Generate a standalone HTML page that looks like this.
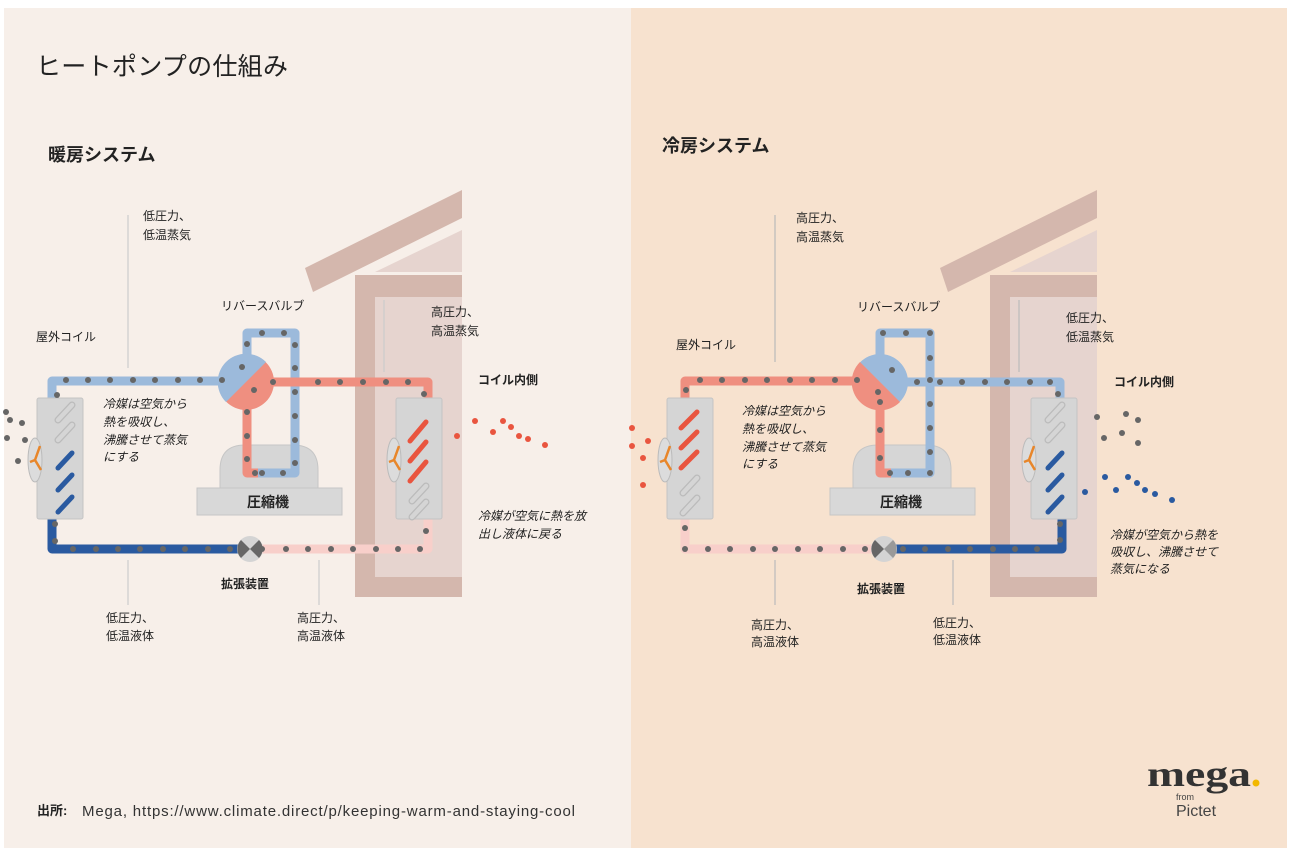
<!DOCTYPE html>
<html><head><meta charset="utf-8"><style>
html,body{margin:0;padding:0;background:#fff}
svg{display:block}
text{font-family:"Liberation Sans","Noto Sans CJK JP",sans-serif;fill:#222}
.s{font-size:12px}
.i{font-size:12px;font-style:italic}
.b{font-size:12px;font-weight:bold}
</style></head><body>
<svg width="1293" height="853" viewBox="0 0 1293 853" xmlns="http://www.w3.org/2000/svg">
<defs>
<g id="coilBase">
  <rect x="0" y="0" width="46" height="121" rx="2" fill="#d5d5d5" stroke="#c4c4c4"/>
  <ellipse cx="-2" cy="62" rx="7" ry="22" fill="#dcdcdc" stroke="#bbb"/>
  <path d="M-2 62 L3 48 M-2 62 L4 72 M-2 62 L-7 64" stroke="#e8862a" stroke-width="2.5" fill="none"/>
</g>
<g id="stripesO">
  <path d="M0 0 L14 -15" stroke="#bbb" stroke-width="7" stroke-linecap="round" fill="none"/>
  <path d="M0 0 L14 -15" stroke="#d5d5d5" stroke-width="4.5" stroke-linecap="round" fill="none"/>
</g>
<g id="house">
  <rect x="0" y="85" width="107" height="322" fill="#d4b7ad"/>
  <rect x="20" y="107" width="87" height="280" fill="#e6d4cf"/>
  <polygon points="-50,78 107,0 107,28 -42,102" fill="#d4b7ad"/>
  <polygon points="20,82 107,40 107,82" fill="#e6d4cf"/>
</g>
</defs>
<rect x="4" y="8" width="627" height="840" fill="#f7efe9"/>
<rect x="631" y="8" width="656" height="840" fill="#f7e2cf"/>

<text x="36" y="75" style="font-size:25px" textLength="252">ヒートポンプの仕組み</text>
<text x="48" y="161" style="font-size:18px;font-weight:bold">暖房システム</text>
<text x="662" y="152" style="font-size:18px;font-weight:bold">冷房システム</text>

<!-- ================= LEFT ================= -->
<g transform="translate(355,190)"><use href="#house"/></g>
<g stroke="#ccc" stroke-width="1.2">
<line x1="128" y1="215" x2="128" y2="368"/>
<line x1="128" y1="560" x2="128" y2="605"/>
<line x1="319" y1="560" x2="319" y2="605"/>
<line x1="384" y1="300" x2="384" y2="372"/>
</g>
<path d="M220 490 L220 470 Q220 445 245 445 L293 445 Q318 445 318 470 L318 490 Z" fill="#d6d6d6" stroke="#c6c6c6"/>
<rect x="197" y="488" width="145" height="27" fill="#d8d8d8" stroke="#c6c6c6"/>
<text x="247" y="507" style="font-size:14px;font-weight:bold">圧縮機</text>
<g fill="none" stroke-linejoin="round" stroke-width="9">
<path d="M52 398 L52 381 L222 381" stroke="#9cbadb"/>
<path d="M247 355 L247 333 L295 333 L295 473 L255 473" stroke="#9cbadb"/>
<path d="M247 408 L247 473 L258 473" stroke="#ef8f80"/>
<path d="M272 382 L428 382 L428 398" stroke="#ef8f80"/>
<path d="M52 518 L52 549 L238 549" stroke="#2a5aa0"/>
<path d="M262 549 L428 549 L428 518" stroke="#f8cfca"/>
</g>
<circle cx="246" cy="382" r="28" fill="#ef8f80"/>
<path d="M226 402 A28 28 0 0 1 266 362 Z" fill="#9cbadb"/>
<circle cx="250" cy="549" r="13" fill="#d4d4d4"/>
<path d="M241 540 L250 549 L241 558 A13 13 0 0 1 241 540 Z" fill="#666"/>
<path d="M259 540 L250 549 L259 558 A13 13 0 0 0 259 540 Z" fill="#666"/>
<g transform="translate(37,398)"><use href="#coilBase"/>
<g transform="translate(21,22)"><use href="#stripesO"/></g>
<g transform="translate(21,42)"><use href="#stripesO"/></g>
<path d="M21 70 L35 55 M21 92 L35 77 M21 114 L35 99" stroke="#2a5aa0" stroke-width="5" stroke-linecap="round"/>
</g>
<g transform="translate(396,398)"><use href="#coilBase"/>
<path d="M14 43 L30 24 M14 63 L30 44 M14 83 L30 64" stroke="#e9553f" stroke-width="5" stroke-linecap="round"/>
<g transform="translate(16,103)"><use href="#stripesO"/></g>
<g transform="translate(16,119)"><use href="#stripesO"/></g>
</g>
<g fill="#666">
<circle cx="57" cy="395" r="3"/><circle cx="66" cy="380" r="3"/><circle cx="88" cy="380" r="3"/><circle cx="110" cy="380" r="3"/><circle cx="133" cy="380" r="3"/><circle cx="155" cy="380" r="3"/><circle cx="178" cy="380" r="3"/><circle cx="200" cy="380" r="3"/><circle cx="222" cy="380" r="3"/>
<circle cx="242" cy="367" r="3"/><circle cx="254" cy="390" r="3"/>
<circle cx="247" cy="344" r="3"/><circle cx="262" cy="333" r="3"/><circle cx="284" cy="333" r="3"/><circle cx="295" cy="345" r="3"/><circle cx="295" cy="368" r="3"/><circle cx="295" cy="392" r="3"/><circle cx="295" cy="416" r="3"/><circle cx="295" cy="440" r="3"/><circle cx="295" cy="463" r="3"/><circle cx="283" cy="473" r="3"/><circle cx="262" cy="473" r="3"/><circle cx="255" cy="473" r="3"/>
<circle cx="247" cy="412" r="3"/><circle cx="247" cy="436" r="3"/><circle cx="247" cy="459" r="3"/>
<circle cx="273" cy="382" r="3"/><circle cx="318" cy="382" r="3"/><circle cx="340" cy="382" r="3"/><circle cx="363" cy="382" r="3"/><circle cx="386" cy="382" r="3"/><circle cx="408" cy="382" r="3"/><circle cx="424" cy="394" r="3"/>
<circle cx="55" cy="524" r="3"/><circle cx="55" cy="541" r="3"/><circle cx="73" cy="549" r="3"/><circle cx="96" cy="549" r="3"/><circle cx="118" cy="549" r="3"/><circle cx="140" cy="549" r="3"/><circle cx="163" cy="549" r="3"/><circle cx="185" cy="549" r="3"/><circle cx="208" cy="549" r="3"/><circle cx="230" cy="549" r="3"/>
<circle cx="262" cy="549" r="3"/><circle cx="286" cy="549" r="3"/><circle cx="308" cy="549" r="3"/><circle cx="331" cy="549" r="3"/><circle cx="353" cy="549" r="3"/><circle cx="376" cy="549" r="3"/><circle cx="398" cy="549" r="3"/><circle cx="420" cy="549" r="3"/><circle cx="426" cy="531" r="3"/>
<circle cx="6" cy="412" r="3"/><circle cx="10" cy="420" r="3"/><circle cx="22" cy="423" r="3"/><circle cx="7" cy="438" r="3"/><circle cx="25" cy="440" r="3"/><circle cx="18" cy="461" r="3"/>
</g>
<g fill="#e9553f">
<circle cx="457" cy="436" r="3"/><circle cx="475" cy="421" r="3"/><circle cx="493" cy="432" r="3"/><circle cx="503" cy="421" r="3"/><circle cx="511" cy="427" r="3"/><circle cx="519" cy="436" r="3"/><circle cx="528" cy="439" r="3"/><circle cx="545" cy="445" r="3"/>
</g>
<text class="s" x="143" y="220">低圧力、</text><text class="s" x="143" y="239">低温蒸気</text>
<text class="s" x="221" y="310">リバースバルブ</text>
<text class="s" x="36" y="341">屋外コイル</text>
<text class="s" x="431" y="316">高圧力、</text><text class="s" x="431" y="335">高温蒸気</text>
<text class="b" x="478" y="384">コイル内側</text>
<text class="i" x="103" y="408">冷媒は空気から</text><text class="i" x="103" y="426">熱を吸収し、</text><text class="i" x="103" y="444">沸騰させて蒸気</text><text class="i" x="103" y="461">にする</text>
<text class="i" x="478" y="520">冷媒が空気に熱を放</text><text class="i" x="478" y="538">出し液体に戻る</text>
<text class="b" x="221" y="588">拡張装置</text>
<text class="s" x="106" y="622">低圧力、</text><text class="s" x="106" y="640">低温液体</text>
<text class="s" x="297" y="622">高圧力、</text><text class="s" x="297" y="640">高温液体</text>

<!-- ================= RIGHT ================= -->
<g transform="translate(990,190)"><use href="#house"/></g>
<g stroke="#bbb" stroke-width="1.2">
<line x1="775" y1="215" x2="775" y2="362"/>
<line x1="775" y1="560" x2="775" y2="605"/>
<line x1="953" y1="560" x2="953" y2="605"/>
<line x1="1019" y1="300" x2="1019" y2="372"/>
</g>
<path d="M853 490 L853 470 Q853 445 878 445 L926 445 Q951 445 951 470 L951 490 Z" fill="#d6d6d6" stroke="#c6c6c6"/>
<rect x="830" y="488" width="145" height="27" fill="#d8d8d8" stroke="#c6c6c6"/>
<text x="880" y="507" style="font-size:14px;font-weight:bold">圧縮機</text>
<g fill="none" stroke-linejoin="round" stroke-width="9">
<path d="M685 398 L685 381 L855 381" stroke="#ef8f80"/>
<path d="M880 355 L880 333 L930 333 L930 473 L888 473" stroke="#9cbadb"/>
<path d="M880 408 L880 473 L891 473" stroke="#ef8f80"/>
<path d="M905 382 L1060 382 L1060 398" stroke="#9cbadb"/>
<path d="M685 518 L685 549 L872 549" stroke="#f8cfca"/>
<path d="M896 549 L1062 549 L1062 518" stroke="#2a5aa0"/>
</g>
<circle cx="880" cy="382" r="28" fill="#9cbadb"/>
<path d="M860 362 A28 28 0 0 0 900 402 Z" fill="#ef8f80"/>
<circle cx="884" cy="549" r="13" fill="#d4d4d4"/>
<path d="M875 540 L884 549 L875 558 A13 13 0 0 1 875 540 Z" fill="#666"/>
<path d="M893 540 L884 549 L893 558 A13 13 0 0 0 893 540 Z" fill="#999"/>
<g transform="translate(667,398)"><use href="#coilBase"/>
<path d="M14 30 L30 14 M14 50 L30 34 M14 70 L30 54" stroke="#e9553f" stroke-width="5" stroke-linecap="round"/>
<g transform="translate(16,95)"><use href="#stripesO"/></g>
<g transform="translate(16,115)"><use href="#stripesO"/></g>
</g>
<g transform="translate(1031,398)"><use href="#coilBase"/>
<g transform="translate(17,22)"><use href="#stripesO"/></g>
<g transform="translate(17,42)"><use href="#stripesO"/></g>
<path d="M17 70 L31 55 M17 92 L31 77 M17 114 L31 99" stroke="#2a5aa0" stroke-width="5" stroke-linecap="round"/>
</g>
<g fill="#666">
<circle cx="686" cy="390" r="3"/><circle cx="700" cy="380" r="3"/><circle cx="722" cy="380" r="3"/><circle cx="745" cy="380" r="3"/><circle cx="767" cy="380" r="3"/><circle cx="790" cy="380" r="3"/><circle cx="812" cy="380" r="3"/><circle cx="835" cy="380" r="3"/><circle cx="857" cy="380" r="3"/>
<circle cx="878" cy="392" r="3"/><circle cx="892" cy="370" r="3"/>
<circle cx="880" cy="402" r="3"/><circle cx="880" cy="430" r="3"/><circle cx="880" cy="458" r="3"/>
<circle cx="883" cy="333" r="3"/><circle cx="906" cy="333" r="3"/><circle cx="930" cy="333" r="3"/><circle cx="930" cy="358" r="3"/><circle cx="930" cy="380" r="3"/><circle cx="930" cy="404" r="3"/><circle cx="930" cy="428" r="3"/><circle cx="930" cy="452" r="3"/><circle cx="930" cy="473" r="3"/><circle cx="908" cy="473" r="3"/><circle cx="890" cy="473" r="3"/>
<circle cx="917" cy="382" r="3"/><circle cx="940" cy="382" r="3"/><circle cx="962" cy="382" r="3"/><circle cx="985" cy="382" r="3"/><circle cx="1007" cy="382" r="3"/><circle cx="1030" cy="382" r="3"/><circle cx="1050" cy="382" r="3"/><circle cx="1058" cy="394" r="3"/>
<circle cx="685" cy="528" r="3"/><circle cx="685" cy="549" r="3"/><circle cx="708" cy="549" r="3"/><circle cx="730" cy="549" r="3"/><circle cx="753" cy="549" r="3"/><circle cx="775" cy="549" r="3"/><circle cx="798" cy="549" r="3"/><circle cx="820" cy="549" r="3"/><circle cx="843" cy="549" r="3"/><circle cx="865" cy="549" r="3"/>
<circle cx="903" cy="549" r="3"/><circle cx="925" cy="549" r="3"/><circle cx="948" cy="549" r="3"/><circle cx="970" cy="549" r="3"/><circle cx="993" cy="549" r="3"/><circle cx="1015" cy="549" r="3"/><circle cx="1037" cy="549" r="3"/><circle cx="1060" cy="540" r="3"/><circle cx="1060" cy="524" r="3"/>
<circle cx="1097" cy="417" r="3"/><circle cx="1126" cy="414" r="3"/><circle cx="1138" cy="420" r="3"/><circle cx="1122" cy="433" r="3"/><circle cx="1104" cy="438" r="3"/><circle cx="1138" cy="443" r="3"/>
</g>
<g fill="#2a5aa0">
<circle cx="1085" cy="492" r="3"/><circle cx="1105" cy="477" r="3"/><circle cx="1116" cy="490" r="3"/><circle cx="1128" cy="477" r="3"/><circle cx="1137" cy="483" r="3"/><circle cx="1145" cy="490" r="3"/><circle cx="1155" cy="494" r="3"/><circle cx="1172" cy="500" r="3"/>
</g>
<g fill="#e9553f">
<circle cx="632" cy="428" r="3"/><circle cx="648" cy="441" r="3"/><circle cx="632" cy="446" r="3"/><circle cx="643" cy="458" r="3"/><circle cx="643" cy="485" r="3"/>
</g>
<text class="s" x="796" y="222">高圧力、</text><text class="s" x="796" y="241">高温蒸気</text>
<text class="s" x="857" y="311">リバースバルブ</text>
<text class="s" x="676" y="349">屋外コイル</text>
<text class="s" x="1066" y="322">低圧力、</text><text class="s" x="1066" y="341">低温蒸気</text>
<text class="b" x="1114" y="386">コイル内側</text>
<text class="i" x="742" y="415">冷媒は空気から</text><text class="i" x="742" y="433">熱を吸収し、</text><text class="i" x="742" y="451">沸騰させて蒸気</text><text class="i" x="742" y="468">にする</text>
<text class="i" x="1110" y="539">冷媒が空気から熱を</text><text class="i" x="1110" y="556">吸収し、沸騰させて</text><text class="i" x="1110" y="573">蒸気になる</text>
<text class="b" x="857" y="593">拡張装置</text>
<text class="s" x="751" y="629">高圧力、</text><text class="s" x="751" y="646">高温液体</text>
<text class="s" x="933" y="627">低圧力、</text><text class="s" x="933" y="644">低温液体</text>

<text x="37" y="815" style="font-size:13px;font-weight:bold">出所:</text>
<text x="82" y="816" style="font-size:15px;fill:#333" textLength="493">Mega, https://www.climate.direct/p/keeping-warm-and-staying-cool</text>
<text x="1147" y="786" style="font-family:'Liberation Serif',serif;font-size:36px;font-weight:bold;fill:#333" textLength="104" lengthAdjust="spacingAndGlyphs">mega</text>
<circle cx="1256" cy="783" r="3.5" fill="#f2b800"/>
<text x="1176" y="800" style="font-size:9px;fill:#444">from</text>
<text x="1176" y="816" style="font-size:16px;fill:#444">Pictet</text>
</svg>
</body></html>
